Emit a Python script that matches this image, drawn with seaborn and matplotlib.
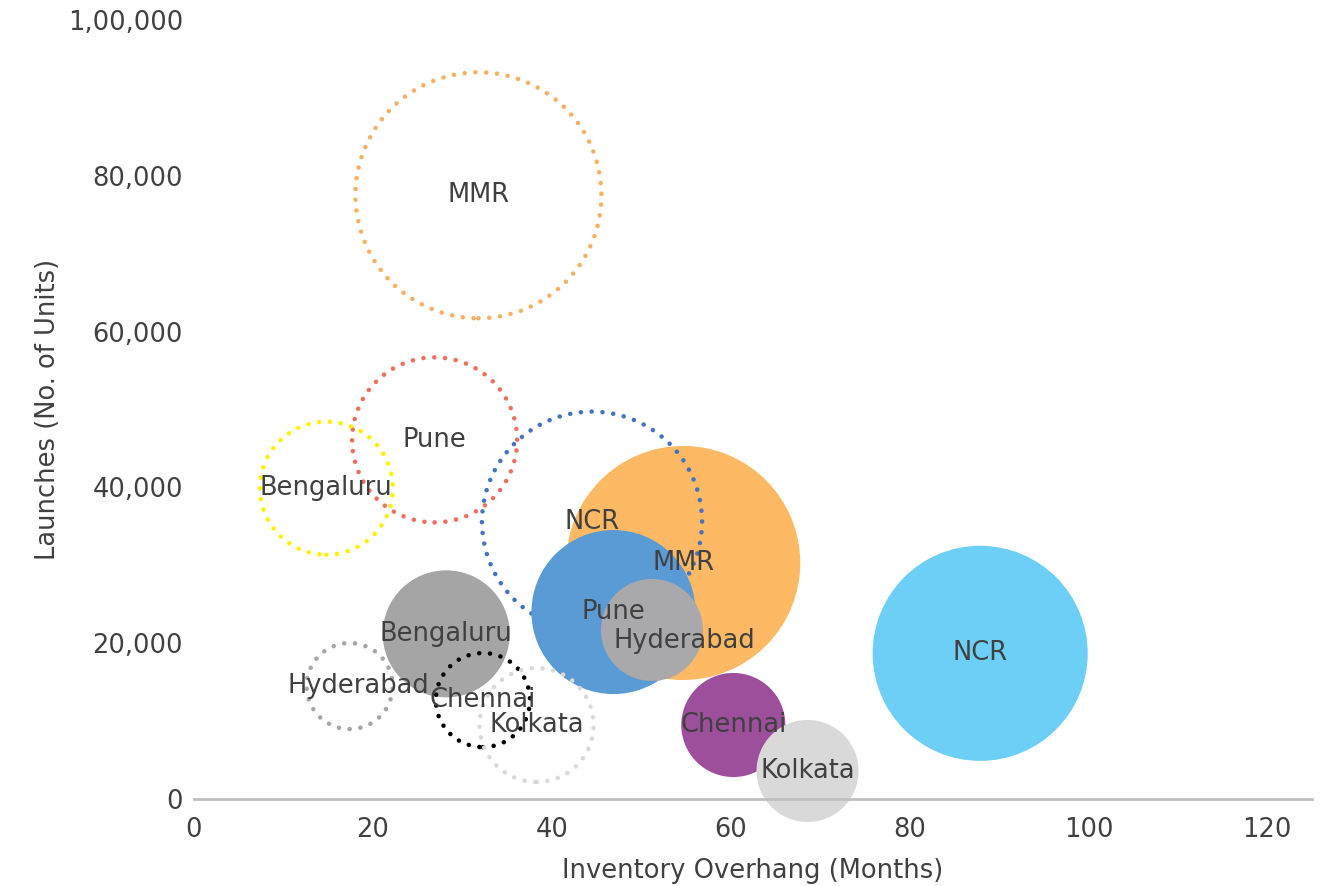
import numpy as np
import pandas as pd
import matplotlib
matplotlib.use("Agg")
import matplotlib.pyplot as plt
import seaborn as sns
from matplotlib.ticker import FuncFormatter

# ---------------- data ----------------
cities = ["MMR", "NCR", "Pune", "Bengaluru", "Hyderabad", "Chennai", "Kolkata"]

# earlier period (dotted bubbles)
prev_overhang = [31.8, 44.5, 26.9, 14.8, 17.4, 32.3, 38.3]
prev_launches = [77500, 35600, 46100, 39900, 14500, 12700, 9500]
prev_unsold = [201000, 161000, 90500, 58800, 24600, 29400, 43200]

# later period (filled bubbles)
curr_overhang = [54.7, 87.9, 46.9, 28.2, 51.2, 60.3, 68.6]
curr_launches = [30300, 18700, 24000, 21200, 21700, 9500, 3600]
curr_unsold = [182000, 153700, 89400, 53600, 34600, 36000, 34600]

prev_colors = ["#F9B062", "#4472C4", "#EF6F5E", "#FFF200", "#A6A6A6", "#000000", "#D9D9D9"]
curr_colors = ["#FDB964", "#6DCFF6", "#5B9BD5", "#A5A5A5", "#A9A8AA", "#9E4F9B", "#D9D9D9"]

x_ticks = [0, 20, 40, 60, 80, 100, 120]
y_ticks = [0, 20000, 40000, 60000, 80000, 100000]

df = pd.concat([
    pd.DataFrame({"city": cities, "period": "prev", "overhang": prev_overhang,
                  "launches": prev_launches, "unsold": prev_unsold, "color": prev_colors}),
    pd.DataFrame({"city": cities, "period": "curr", "overhang": curr_overhang,
                  "launches": curr_launches, "unsold": curr_unsold, "color": curr_colors}),
], ignore_index=True)

# ---------------- style ----------------
sns.set_theme(style="white")
plt.rcParams["font.family"] = ["DejaVu Sans"]
TXT = "#404040"
FS = 18.5

W, H, DPI = 1344, 886, 100
fig = plt.figure(figsize=(W / DPI, H / DPI), dpi=DPI)
ax = fig.add_axes([194 / W, 1 - 799 / H, (1312 - 194) / W, (799 - 20) / H])

VMAX = max(prev_unsold + curr_unsold)
R_MAX_PX = 123.0
S_MAX = (2 * R_MAX_PX * 72.0 / DPI) ** 2

label_offsets = {("curr", "Hyderabad"): (23, -8), ("prev", "Hyderabad"): (6, 0)}

for city in cities:
    for period in ["prev", "curr"]:
        sub = df[(df.city == city) & (df.period == period)]
        sns.scatterplot(data=sub, x="overhang", y="launches", size="unsold",
                        sizes=(0, S_MAX), size_norm=(0, VMAX), legend=False, ax=ax)
        coll = ax.collections[-1]
        col = sub["color"].iloc[0]
        coll.set_clip_on(False)
        if period == "prev":
            coll.set_facecolor("none")
            coll.set_edgecolor(col)
            coll.set_linewidth(3.3)
            coll.set_linestyle((0, (0.01, 2.35)))
            coll.set_capstyle("round")
        else:
            coll.set_facecolor(col)
            coll.set_edgecolor("none")
            coll.set_linewidth(0)

for _, row in df.iterrows():
    off = label_offsets.get((row.period, row.city), (0, 0))
    ax.annotate(row.city, (row.overhang, row.launches), xytext=off,
                textcoords="offset points", ha="center", va="center",
                fontsize=FS, color=TXT, zorder=10, annotation_clip=False)

ax.set_xlim(0, 125)
ax.set_ylim(0, 100000)
ax.set_xticks(x_ticks)
ax.set_yticks(y_ticks)


def indian(v, pos=None):
    s = str(int(round(v)))
    if len(s) <= 3:
        return s
    last3, rest = s[-3:], s[:-3]
    groups = []
    while len(rest) > 2:
        groups.insert(0, rest[-2:])
        rest = rest[:-2]
    if rest:
        groups.insert(0, rest)
    return ",".join(groups + [last3])


ax.yaxis.set_major_formatter(FuncFormatter(indian))
ax.tick_params(axis="both", length=0, labelsize=FS, labelcolor=TXT)
ax.tick_params(axis="y", pad=8)
ax.tick_params(axis="x", pad=13)

for side in ["top", "right", "left"]:
    ax.spines[side].set_visible(False)
ax.spines["bottom"].set_color("#BFBFBF")
ax.spines["bottom"].set_linewidth(2)
ax.grid(False)

ax.set_xlabel("Inventory Overhang (Months)", fontsize=FS, color=TXT, labelpad=11)
ax.set_ylabel("Launches (No. of Units)", fontsize=FS, color=TXT, labelpad=5)

fig.savefig("out.png", dpi=DPI, facecolor="white")
